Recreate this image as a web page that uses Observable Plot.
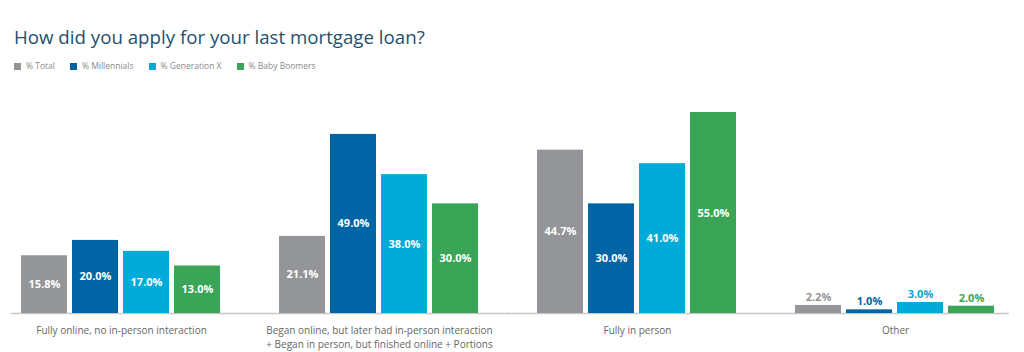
<!DOCTYPE html>
<html>
<head>
<meta charset="utf-8">
<script src="https://cdn.jsdelivr.net/npm/d3@7"></script>
<script src="https://cdn.jsdelivr.net/npm/@observablehq/plot@0.6"></script>
<style>
  body { margin: 0; background: #fff; font-family: "Open Sans", sans-serif; }
  #wrap { position: relative; width: 1024px; height: 352px; overflow: hidden; background: #fff; }
  #title { position: absolute; left: 14px; top: 27px; font-size: 18.7px; line-height: 19px; color: #24506f; white-space: nowrap; }
  #legend { position: absolute; left: 14px; top: 60px; display: flex; font-size: 8.5px; line-height: 12px; color: #8a8a8a; white-space: nowrap; }
  .item { display: flex; align-items: center; margin-right: 15px; }
  .sw { width: 7px; height: 7px; margin-right: 5px; }
  #chart { position: absolute; left: 0; top: 80px; }
</style>
</head>
<body>
<div id="wrap">
  <div id="title"></div>
  <div id="legend"></div>
  <div id="chart"></div>
</div>
<script>
const title = "How did you apply for your last mortgage loan?";
const groups = [
  "Fully online, no in-person interaction",
  "Began online, but later had in-person interaction\n+ Began in person, but finished online + Portions",
  "Fully in person",
  "Other"
];
const series = ["% Total", "% Millennials", "% Generation X", "% Baby Boomers"];
const colors = ["#939598", "#0065a4", "#00aad9", "#3aa556"];
const totalValues = [15.8, 21.1, 44.7, 2.2];
const millennialsValues = [20.0, 49.0, 30.0, 1.0];
const genXValues = [17.0, 38.0, 41.0, 3.0];
const boomersValues = [13.0, 30.0, 55.0, 2.0];

const seriesValues = [totalValues, millennialsValues, genXValues, boomersValues];
const data = groups.flatMap((g, i) => series.map((s, j) => ({group: g, series: s, value: seriesValues[j][i]})));
const fmt = d => d.value.toFixed(1) + "%";

document.getElementById("title").textContent = title;
const legend = document.getElementById("legend");
series.forEach((s, i) => {
  const it = document.createElement("div");
  it.className = "item";
  const sw = document.createElement("div");
  sw.className = "sw";
  sw.style.background = colors[i];
  const tx = document.createElement("span");
  tx.textContent = s;
  it.appendChild(sw); it.appendChild(tx);
  legend.appendChild(it);
});

const ruleStyle = {y: 0, stroke: "#c8c8c8", strokeWidth: 1.5};
const chart = Plot.plot({
  width: 1024,
  height: 272,
  marginTop: 32,
  marginBottom: 39,
  marginLeft: 10,
  marginRight: 19,
  fx: {domain: groups, paddingInner: 0.218, paddingOuter: 0.035, axis: null, label: null},
  x: {domain: series, paddingInner: 0.09, paddingOuter: 0, axis: null},
  y: {domain: [0, 55], axis: null},
  color: {domain: series, range: colors},
  style: {fontFamily: "'Open Sans', sans-serif", background: "#fff", overflow: "visible"},
  marks: [
    Plot.ruleY(groups.slice(0, 1), {fx: d => d, ...ruleStyle, insetLeft: -9, insetRight: -29}),
    Plot.ruleY(groups.slice(1, 3), {fx: d => d, ...ruleStyle, insetLeft: -29, insetRight: -29}),
    Plot.ruleY(groups.slice(3), {fx: d => d, ...ruleStyle, insetLeft: -29, insetRight: -13}),
    Plot.barY(data, {fx: "group", x: "series", y: "value", fill: "series"}),
    Plot.text(data.filter(d => d.value >= 10), {
      fx: "group", x: "series", y: d => d.value / 2, text: fmt,
      fill: "white", fontSize: 11, fontWeight: "bold"
    }),
    Plot.text(data.filter(d => d.value < 10), {
      fx: "group", x: "series", y: "value", text: fmt,
      fill: "series", fontSize: 11, fontWeight: "bold", dy: -8
    }),
    Plot.text(groups, {
      fx: d => d, text: d => d, frameAnchor: "bottom", lineAnchor: "top",
      dy: 10, fontSize: 10, fill: "#666", lineHeight: 1.45
    })
  ]
});
document.getElementById("chart").appendChild(chart);
</script>
</body>
</html>
